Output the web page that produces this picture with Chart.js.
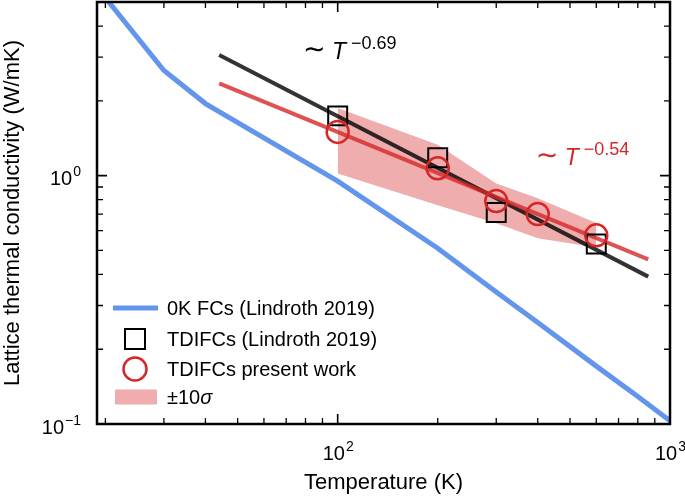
<!DOCTYPE html>
<html>
<head>
<meta charset="utf-8">
<script src="https://cdn.jsdelivr.net/npm/chart.js@4.4.1/dist/chart.umd.min.js"></script>
<style>
  html, body { margin: 0; padding: 0; background: #fff; }
</style>
</head>
<body>
<canvas id="grafico" width="685" height="497"></canvas>
<script>
// Dados (T em K, kappa em W/mK)
const tempOK = [20, 30, 40, 100, 200, 300, 400, 600, 800, 1000];
const kappaOK = [5.2, 2.65, 1.95, 0.95, 0.51, 0.34, 0.256, 0.171, 0.129, 0.103];

const tempLindroth = [100, 200, 300, 600];
const kappaLindroth = [1.74, 1.18, 0.71, 0.53];

const tempPresente = [100, 200, 300, 400, 600];
const kappaPresente = [1.50, 1.07, 0.79, 0.70, 0.575];
const bandaSup = [1.87, 1.33, 0.93, 0.81, 0.645];
const bandaInf = [1.02, 0.76, 0.643, 0.56, 0.514];

// retas de ajuste (extremos)
const tempAjuste = [44, 860];
const ajusteLindroth = [3.06, 0.392];
const ajustePresente = [2.35, 0.46];

// ticks dos eixos
const xMaiores = [100, 1000];
const xExpoentes = ['2', '3'];
const xMenores = [20, 30, 40, 50, 60, 70, 80, 90, 200, 300, 400, 500, 600, 700, 800, 900];
const yMaiores = [0.1, 1];
const yExpoentes = ['\u22121', '0'];
const yMenores = [0.2, 0.3, 0.4, 0.5, 0.6, 0.7, 0.8, 0.9, 2, 3, 4];

const legendas = ['0K FCs (Lindroth 2019)', 'TDIFCs (Lindroth 2019)', 'TDIFCs present work', '\u00b110'];

const FONTE = '"Liberation Sans", Arial, Helvetica, sans-serif';
const AZUL = '#6495ed';
const VERMELHO = '#d62728';
const COR_BANDA = 'rgba(214, 39, 40, 0.38)';

function pontos(xs, ys) {
  return xs.map((x, i) => ({ x: x, y: ys[i] }));
}

// desenha "10" com expoente
function potencia(ctx, exp, x, y, alinhar) {
  ctx.font = '20px ' + FONTE;
  const wBase = ctx.measureText('10').width;
  ctx.font = '14px ' + FONTE;
  const wExp = ctx.measureText(exp).width;
  let x0 = x;
  if (alinhar === 'center') x0 = x - (wBase + wExp) / 2;
  if (alinhar === 'right') x0 = x - (wBase + wExp);
  ctx.textAlign = 'left';
  ctx.textBaseline = 'alphabetic';
  ctx.font = '20px ' + FONTE;
  ctx.fillText('10', x0, y);
  ctx.font = '14px ' + FONTE;
  ctx.fillText(exp, x0 + wBase + 1, y - 9);
}

// texto "~ T^expoente"
function leiPotencia(ctx, exp, x, y, cor) {
  ctx.fillStyle = cor;
  ctx.textAlign = 'left';
  ctx.textBaseline = 'alphabetic';
  ctx.font = '27px "DejaVu Sans", ' + FONTE;
  ctx.fillText('\u223c', x - 2, y - 1);
  ctx.font = 'italic 23px ' + FONTE;
  ctx.fillText('T', x + 27, y);
  ctx.font = '18px ' + FONTE;
  ctx.fillText(exp, x + 46, y - 10);
}

const moldura = {
  id: 'moldura',
  afterDraw(chart) {
    const { ctx, chartArea: a, scales: { x, y } } = chart;
    ctx.save();
    ctx.strokeStyle = '#000';
    ctx.fillStyle = '#000';

    // ticks para dentro, nos quatro lados
    ctx.lineWidth = 1.3;
    ctx.beginPath();
    const tickX = (v, t) => {
      const px = x.getPixelForValue(v);
      ctx.moveTo(px, a.bottom); ctx.lineTo(px, a.bottom - t);
      ctx.moveTo(px, a.top); ctx.lineTo(px, a.top + t);
    };
    const tickY = (v, t) => {
      const py = y.getPixelForValue(v);
      ctx.moveTo(a.left, py); ctx.lineTo(a.left + t, py);
      ctx.moveTo(a.right, py); ctx.lineTo(a.right - t, py);
    };
    xMenores.forEach(v => tickX(v, 6));
    yMenores.forEach(v => tickY(v, 6));
    ctx.stroke();
    ctx.lineWidth = 1.6;
    ctx.beginPath();
    xMaiores.forEach(v => tickX(v, 10));
    yMaiores.forEach(v => tickY(v, 10));
    ctx.stroke();

    ctx.lineWidth = 2.5;
    ctx.strokeRect(a.left, a.top, a.right - a.left, a.bottom - a.top);

    // rotulos dos ticks
    xMaiores.forEach((v, i) => potencia(ctx, xExpoentes[i], x.getPixelForValue(v), a.bottom + 36, 'center'));
    yMaiores.forEach((v, i) => potencia(ctx, yExpoentes[i], a.left - 17, y.getPixelForValue(v) + 9.5, 'right'));

    // leis de potencia
    leiPotencia(ctx, '\u22120.69', x.getPixelForValue(79.7), y.getPixelForValue(2.95), '#000');
    leiPotencia(ctx, '\u22120.54', x.getPixelForValue(400), y.getPixelForValue(1.10), VERMELHO);

    // legenda
    const linhas = [308, 339, 369, 397];
    const cx = 135;
    ctx.lineWidth = 5;
    ctx.strokeStyle = AZUL;
    ctx.beginPath(); ctx.moveTo(113, linhas[0]); ctx.lineTo(158, linhas[0]); ctx.stroke();
    ctx.lineWidth = 2;
    ctx.strokeStyle = '#000';
    ctx.strokeRect(cx - 10, linhas[1] - 10, 20, 20);
    ctx.lineWidth = 2.5;
    ctx.strokeStyle = VERMELHO;
    ctx.beginPath(); ctx.arc(cx, linhas[2], 11.5, 0, Math.PI * 2); ctx.stroke();
    ctx.fillStyle = COR_BANDA;
    ctx.fillRect(115, linhas[3] - 7.5, 42, 15);

    ctx.fillStyle = '#000';
    ctx.textAlign = 'left';
    ctx.textBaseline = 'alphabetic';
    ctx.font = '20px ' + FONTE;
    legendas.forEach((txt, i) => ctx.fillText(txt, 167, linhas[i] + 7));
    const w = ctx.measureText(legendas[3]).width;
    ctx.font = 'italic 20px ' + FONTE;
    ctx.fillText('\u03c3', 167 + w, linhas[3] + 7);

    ctx.restore();
  }
};

new Chart(document.getElementById('grafico'), {
  type: 'line',
  data: {
    datasets: [
      {
        label: 'banda inferior',
        data: pontos(tempPresente, bandaInf),
        borderWidth: 0,
        borderColor: 'transparent',
        pointRadius: 0,
        fill: false,
        order: 5
      },
      {
        label: '\u00b110\u03c3',
        data: pontos(tempPresente, bandaSup),
        borderWidth: 0,
        borderColor: 'transparent',
        backgroundColor: COR_BANDA,
        pointRadius: 0,
        fill: '-1',
        order: 5
      },
      {
        label: '0K FCs (Lindroth 2019)',
        data: pontos(tempOK, kappaOK),
        borderColor: AZUL,
        borderWidth: 5,
        pointRadius: 0,
        order: 4
      },
      {
        label: 'ajuste Lindroth',
        data: pontos(tempAjuste, ajusteLindroth),
        borderColor: 'rgba(0, 0, 0, 0.8)',
        borderWidth: 4,
        pointRadius: 0,
        order: 3
      },
      {
        label: 'ajuste presente',
        data: pontos(tempAjuste, ajustePresente),
        borderColor: 'rgba(214, 39, 40, 0.8)',
        borderWidth: 4,
        pointRadius: 0,
        order: 2
      },
      {
        label: 'TDIFCs (Lindroth 2019)',
        data: pontos(tempLindroth, kappaLindroth),
        showLine: false,
        pointStyle: 'rect',
        pointRadius: 13.4,
        pointBorderWidth: 2,
        pointBorderColor: '#000',
        pointBackgroundColor: 'transparent',
        order: 1
      },
      {
        label: 'TDIFCs present work',
        data: pontos(tempPresente, kappaPresente),
        showLine: false,
        pointStyle: 'circle',
        pointRadius: 11,
        pointBorderWidth: 2.5,
        pointBorderColor: VERMELHO,
        pointBackgroundColor: 'transparent',
        order: 0
      }
    ]
  },
  options: {
    responsive: false,
    animation: false,
    events: [],
    layout: { autoPadding: false, padding: { top: 2, right: 15, left: 0, bottom: 0 } },
    plugins: { legend: { display: false }, tooltip: { enabled: false } },
    scales: {
      x: {
        type: 'logarithmic',
        min: 18.87,
        max: 1000,
        grid: { display: false },
        border: { display: false },
        ticks: { display: false },
        title: {
          display: true,
          text: 'Temperature (K)',
          color: '#000',
          font: { family: FONTE, size: 22 },
          padding: { top: 0, bottom: 1 }
        },
        afterFit: (escala) => { escala.height = 73; }
      },
      y: {
        type: 'logarithmic',
        min: 0.1,
        max: 5,
        grid: { display: false },
        border: { display: false },
        ticks: { display: false },
        title: {
          display: true,
          text: 'Lattice thermal conductivity (W/mK)',
          color: '#000',
          font: { family: FONTE, size: 22 },
          padding: { top: 0, bottom: 0 }
        },
        afterFit: (escala) => { escala.width = 97; }
      }
    }
  },
  plugins: [moldura]
});
</script>
</body>
</html>
